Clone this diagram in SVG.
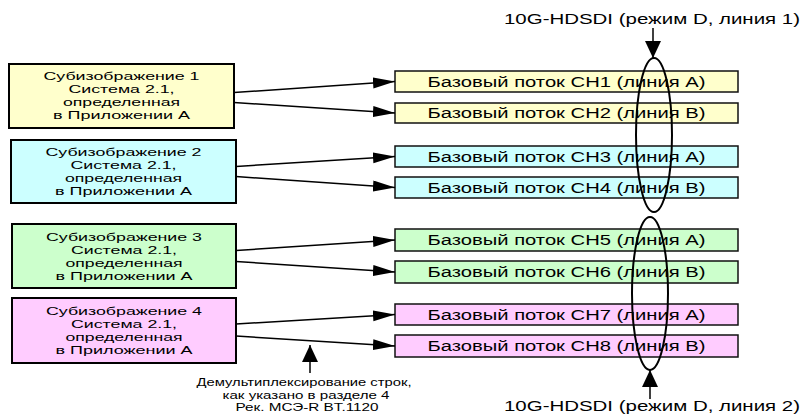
<svg xmlns="http://www.w3.org/2000/svg" width="801" height="417" viewBox="0 0 801 417">
  <defs>
    <style>
      text { font-family: "Liberation Sans", Arial, sans-serif; fill: #000; }
      .src rect { stroke: #000; stroke-width: 2; }
      .src text { font-size: 11.3px; text-anchor: middle; }
      .dst rect { stroke: #111; stroke-width: 1.5; }
      .dst text { font-size: 14px; text-anchor: middle; }
      .yel { fill: #FFFFCC; }
      .cyn { fill: #CCFFFF; }
      .grn { fill: #CCFFCC; }
      .pnk { fill: #FFCCFF; }
      .conn { stroke: #000; stroke-width: 1.5; fill: none; }
      .link { marker-end: url(#head); }
      .ring { stroke: #000; stroke-width: 2; fill: none; }
      .label { font-size: 14.5px; text-anchor: middle; }
      .note { font-size: 10.4px; text-anchor: middle; }
    </style>
    <marker id="head" markerUnits="userSpaceOnUse" markerWidth="23" markerHeight="12" refX="22" refY="5.5" orient="auto">
      <path d="M0,0 L22,5.5 L0,11 z" fill="#000"/>
    </marker>
    <marker id="bighead" markerUnits="userSpaceOnUse" markerWidth="18" markerHeight="17" refX="17" refY="8" orient="auto">
      <path d="M0,0 L17,8 L0,16 z" fill="#000"/>
    </marker>
  </defs>

  <rect width="801" height="417" fill="#fff"/>

  <!-- sub-image source blocks -->
  <g id="sub1" class="src">
    <rect class="yel" x="9" y="64" width="225" height="64"/>
    <text x="121.5" y="80" textLength="156" lengthAdjust="spacingAndGlyphs">Субизображение 1</text>
    <text x="121.5" y="93" textLength="106" lengthAdjust="spacingAndGlyphs">Система 2.1,</text>
    <text x="121.5" y="106" textLength="117" lengthAdjust="spacingAndGlyphs">определенная</text>
    <text x="121.5" y="119" textLength="137" lengthAdjust="spacingAndGlyphs">в Приложении A</text>
  </g>
  <g id="sub2" class="src">
    <rect class="cyn" x="11" y="140" width="225" height="63"/>
    <text x="123.5" y="156" textLength="156" lengthAdjust="spacingAndGlyphs">Субизображение 2</text>
    <text x="123.5" y="169" textLength="106" lengthAdjust="spacingAndGlyphs">Система 2.1,</text>
    <text x="123.5" y="182" textLength="117" lengthAdjust="spacingAndGlyphs">определенная</text>
    <text x="123.5" y="195" textLength="137" lengthAdjust="spacingAndGlyphs">в Приложении A</text>
  </g>
  <g id="sub3" class="src">
    <rect class="grn" x="12" y="224" width="224" height="64"/>
    <text x="124" y="241" textLength="156" lengthAdjust="spacingAndGlyphs">Субизображение 3</text>
    <text x="124" y="254" textLength="106" lengthAdjust="spacingAndGlyphs">Система 2.1,</text>
    <text x="124" y="267" textLength="117" lengthAdjust="spacingAndGlyphs">определенная</text>
    <text x="124" y="280" textLength="137" lengthAdjust="spacingAndGlyphs">в Приложении A</text>
  </g>
  <g id="sub4" class="src">
    <rect class="pnk" x="12" y="298" width="224" height="65"/>
    <text x="124" y="315" textLength="156" lengthAdjust="spacingAndGlyphs">Субизображение 4</text>
    <text x="124" y="328" textLength="106" lengthAdjust="spacingAndGlyphs">Система 2.1,</text>
    <text x="124" y="341" textLength="117" lengthAdjust="spacingAndGlyphs">определенная</text>
    <text x="124" y="354" textLength="137" lengthAdjust="spacingAndGlyphs">в Приложении A</text>
  </g>

  <!-- basic streams -->
  <g id="ch1" class="dst">
    <rect class="yel" x="395" y="71" width="343" height="21"/>
    <text x="566.5" y="86.5" textLength="278" lengthAdjust="spacingAndGlyphs">Базовый поток CH1 (линия A)</text>
  </g>
  <g id="ch2" class="dst">
    <rect class="yel" x="395" y="103" width="343" height="20"/>
    <text x="566.5" y="118" textLength="278" lengthAdjust="spacingAndGlyphs">Базовый поток CH2 (линия B)</text>
  </g>
  <g id="ch3" class="dst">
    <rect class="cyn" x="395" y="146" width="343" height="21"/>
    <text x="566.5" y="161.5" textLength="278" lengthAdjust="spacingAndGlyphs">Базовый поток CH3 (линия A)</text>
  </g>
  <g id="ch4" class="dst">
    <rect class="cyn" x="395" y="177" width="343" height="21"/>
    <text x="566.5" y="192.5" textLength="278" lengthAdjust="spacingAndGlyphs">Базовый поток CH4 (линия B)</text>
  </g>
  <g id="ch5" class="dst">
    <rect class="grn" x="395" y="229" width="343" height="22"/>
    <text x="566.5" y="245" textLength="278" lengthAdjust="spacingAndGlyphs">Базовый поток CH5 (линия A)</text>
  </g>
  <g id="ch6" class="dst">
    <rect class="grn" x="395" y="261" width="343" height="22"/>
    <text x="566.5" y="277" textLength="278" lengthAdjust="spacingAndGlyphs">Базовый поток CH6 (линия B)</text>
  </g>
  <g id="ch7" class="dst">
    <rect class="pnk" x="395" y="304" width="343" height="21"/>
    <text x="566.5" y="319.5" textLength="278" lengthAdjust="spacingAndGlyphs">Базовый поток CH7 (линия A)</text>
  </g>
  <g id="ch8" class="dst">
    <rect class="pnk" x="395" y="335" width="343" height="22"/>
    <text x="566.5" y="351" textLength="278" lengthAdjust="spacingAndGlyphs">Базовый поток CH8 (линия B)</text>
  </g>

  <!-- 10G-HDSDI link groupings -->
  <g id="link1">
    <ellipse class="ring" cx="654" cy="135" rx="18" ry="77"/>
    <text class="label" x="652" y="24" textLength="296" lengthAdjust="spacingAndGlyphs">10G-HDSDI (режим D, линия 1)</text>
  </g>
  <g id="link2">
    <ellipse class="ring" cx="650" cy="293.5" rx="18" ry="76.5"/>
    <text class="label" x="652" y="411" textLength="296" lengthAdjust="spacingAndGlyphs">10G-HDSDI (режим D, линия 2)</text>
  </g>
  <g id="demux-note">
    <text class="note" x="304" y="386" textLength="215" lengthAdjust="spacingAndGlyphs">Демультиплексирование строк,</text>
    <text class="note" x="306" y="398.5" textLength="167" lengthAdjust="spacingAndGlyphs">как указано в разделе 4</text>
    <text class="note" x="307" y="411" textLength="143" lengthAdjust="spacingAndGlyphs">Рек. МСЭ-R BT.1120</text>
  </g>

  <!-- connectors -->
  <g id="connectors">
    <line class="conn link" x1="234" y1="92.5" x2="395" y2="81.5"/>
    <line class="conn link" x1="234" y1="102.5" x2="395" y2="113"/>
    <line class="conn link" x1="236" y1="166.5" x2="395" y2="156.5"/>
    <line class="conn link" x1="236" y1="176.5" x2="395" y2="187.5"/>
    <line class="conn link" x1="236" y1="250.5" x2="395" y2="240"/>
    <line class="conn link" x1="236" y1="261.5" x2="395" y2="272"/>
    <line class="conn link" x1="236" y1="324" x2="395" y2="314.5"/>
    <line class="conn link" x1="236" y1="336" x2="395" y2="346"/>
    <line class="conn" x1="653" y1="28" x2="653" y2="58" marker-end="url(#bighead)"/>
    <line class="conn" x1="650" y1="399" x2="650" y2="370" marker-end="url(#bighead)"/>
    <line class="conn" x1="310" y1="373" x2="310" y2="345" marker-end="url(#bighead)"/>
  </g>
</svg>
